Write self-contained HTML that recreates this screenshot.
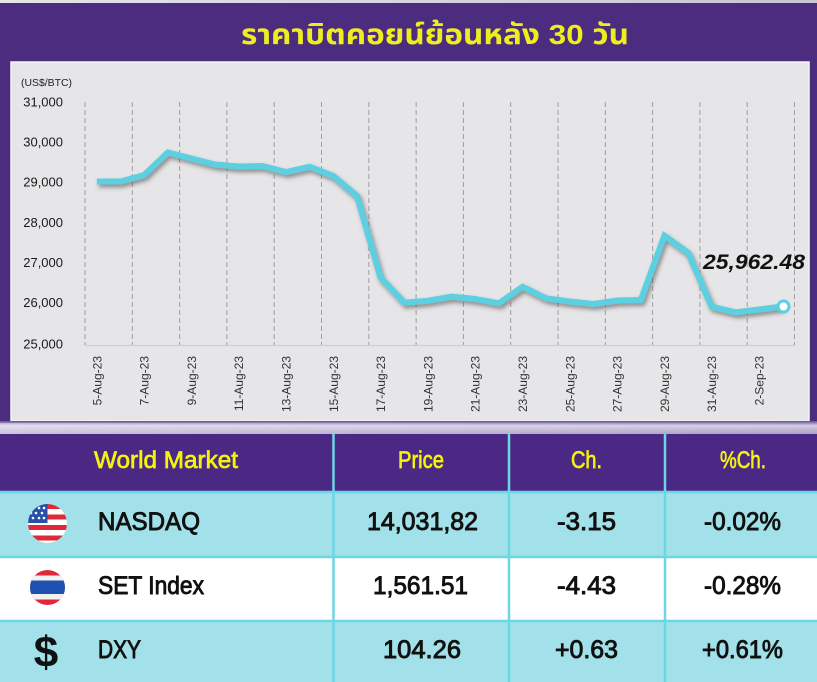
<!DOCTYPE html>
<html>
<head>
<meta charset="utf-8">
<style>
html,body{margin:0;padding:0;background:#4b2c7e;}
svg{display:block;}
</style>
</head>
<body>
<svg width="817" height="682" viewBox="0 0 817 682" xmlns="http://www.w3.org/2000/svg">
  <defs>
    <linearGradient id="topband" x1="0" y1="0" x2="1" y2="0">
      <stop offset="0" stop-color="#e4e4ea"/>
      <stop offset="1" stop-color="#c9c4d6"/>
    </linearGradient>
    <linearGradient id="midband" x1="0" y1="0" x2="0" y2="1">
      <stop offset="0" stop-color="#5f4f92"/>
      <stop offset="0.35" stop-color="#d4cfe2"/>
      <stop offset="1" stop-color="#ab9dc8"/>
    </linearGradient>
    <linearGradient id="midbandh" x1="0" y1="0" x2="1" y2="0">
      <stop offset="0" stop-color="#ffffff" stop-opacity="0.35"/>
      <stop offset="1" stop-color="#ffffff" stop-opacity="0"/>
    </linearGradient>
    <filter id="sh" x="-10%" y="-20%" width="120%" height="140%">
      <feDropShadow dx="2" dy="3" stdDeviation="2" flood-color="#444" flood-opacity="0.55"/>
    </filter>
    <clipPath id="usc"><circle cx="47.5" cy="523.5" r="19.5"/></clipPath>
    <clipPath id="thc"><circle cx="47.5" cy="587.5" r="17.5"/></clipPath>
  </defs>

  <!-- background -->
  <rect x="0" y="0" width="817" height="682" fill="#4b2c7e"/>
  <rect x="0" y="0" width="817" height="3" fill="url(#topband)"/>

  <!-- title -->
  <text x="435" y="44" text-anchor="middle" font-family="'Liberation Sans','Noto Sans Thai','Garuda','Loma','Tlwg Typo','Waree',sans-serif" font-size="28" font-weight="bold" fill="#eeee1e" textLength="388" lengthAdjust="spacingAndGlyphs">ราคาบิตคอยน์ย้อนหลัง 30 วัน</text>

  <!-- chart panel -->
  <rect x="11" y="62" width="798" height="359" fill="#e6e6e8" stroke="#f4f4f6" stroke-width="1.5"/>

  <text x="21" y="86" font-family="'Liberation Sans',sans-serif" font-size="10.5" fill="#222" textLength="51" lengthAdjust="spacingAndGlyphs">(US$/BTC)</text>

  <g font-family="'Liberation Sans',sans-serif" font-size="13" fill="#1a1a1a" text-anchor="end">
    <text x="63" y="106.5">31,000</text>
    <text x="63" y="146.5">30,000</text>
    <text x="63" y="186.5">29,000</text>
    <text x="63" y="227">28,000</text>
    <text x="63" y="267">27,000</text>
    <text x="63" y="307">26,000</text>
    <text x="63" y="348.5">25,000</text>
  </g>

  <!-- gridlines -->
  <g stroke="#a0a0a0" stroke-width="1" stroke-dasharray="5,3">
    <line x1="85" y1="102" x2="85" y2="345"/>
    <line x1="132.3" y1="102" x2="132.3" y2="345"/>
    <line x1="179.6" y1="102" x2="179.6" y2="345"/>
    <line x1="226.9" y1="102" x2="226.9" y2="345"/>
    <line x1="274.2" y1="102" x2="274.2" y2="345"/>
    <line x1="321.5" y1="102" x2="321.5" y2="345"/>
    <line x1="368.8" y1="102" x2="368.8" y2="345"/>
    <line x1="416.1" y1="102" x2="416.1" y2="345"/>
    <line x1="463.4" y1="102" x2="463.4" y2="345"/>
    <line x1="510.7" y1="102" x2="510.7" y2="345"/>
    <line x1="558" y1="102" x2="558" y2="345"/>
    <line x1="605.3" y1="102" x2="605.3" y2="345"/>
    <line x1="652.6" y1="102" x2="652.6" y2="345"/>
    <line x1="699.9" y1="102" x2="699.9" y2="345"/>
    <line x1="747.2" y1="102" x2="747.2" y2="345"/>
    <line x1="794.5" y1="102" x2="794.5" y2="345"/>
  </g>
  <line x1="85" y1="345.5" x2="795" y2="345.5" stroke="#cfcfcf" stroke-width="1.2"/>

  <!-- x labels -->
  <g font-family="'Liberation Sans',sans-serif" font-size="12" fill="#333" text-anchor="end">
    <text transform="translate(101.3,356) rotate(-90)">5-Aug-23</text>
    <text transform="translate(148.6,356) rotate(-90)">7-Aug-23</text>
    <text transform="translate(195.9,356) rotate(-90)">9-Aug-23</text>
    <text transform="translate(243.2,356) rotate(-90)">11-Aug-23</text>
    <text transform="translate(290.5,356) rotate(-90)">13-Aug-23</text>
    <text transform="translate(337.8,356) rotate(-90)">15-Aug-23</text>
    <text transform="translate(385.1,356) rotate(-90)">17-Aug-23</text>
    <text transform="translate(432.4,356) rotate(-90)">19-Aug-23</text>
    <text transform="translate(479.7,356) rotate(-90)">21-Aug-23</text>
    <text transform="translate(527,356) rotate(-90)">23-Aug-23</text>
    <text transform="translate(574.3,356) rotate(-90)">25-Aug-23</text>
    <text transform="translate(621.6,356) rotate(-90)">27-Aug-23</text>
    <text transform="translate(668.9,356) rotate(-90)">29-Aug-23</text>
    <text transform="translate(716.2,356) rotate(-90)">31-Aug-23</text>
    <text transform="translate(763.5,356) rotate(-90)">2-Sep-23</text>
  </g>

  <!-- series -->
  <polyline filter="url(#sh)" fill="none" stroke="#5ccfe0" stroke-width="6" stroke-linejoin="miter" stroke-linecap="butt"
    points="96.8,181.5 120.5,181.5 144.1,175 167.8,152.5 191.4,158.5 215.1,164.5 238.7,166.5 262.4,166 286,172 309.7,166.7 333.3,176 357,196 380.6,277.7 404.3,302.7 427.9,300.7 451.6,296.7 475.2,299 498.9,303.3 522.5,286.7 546.2,298.3 569.8,301.5 593.5,304 617.1,300.5 640.8,300 664.4,235.7 688.1,252.7 711.7,306.7 735.4,312.3 759,309.5 782.7,306.5"/>
  <circle cx="783.5" cy="306.5" r="5.5" fill="#ffffff" stroke="#5ccfe0" stroke-width="3"/>

  <text x="703" y="269" font-family="'Liberation Sans',sans-serif" font-size="21" font-weight="bold" font-style="italic" fill="#111" textLength="102" lengthAdjust="spacingAndGlyphs">25,962.48</text>

  <!-- band between chart and table -->
  <rect x="0" y="421" width="817" height="13" fill="url(#midband)"/>
  <rect x="0" y="423" width="817" height="11" fill="url(#midbandh)"/>

  <!-- table -->
  <rect x="0" y="434" width="817" height="58" fill="#4b2883"/>
  <rect x="0" y="492" width="817" height="65" fill="#a2e1e9"/>
  <rect x="0" y="557" width="817" height="64" fill="#ffffff"/>
  <rect x="0" y="621" width="817" height="61" fill="#a2e1e9"/>

  <g stroke="#6dd6e5" stroke-width="2.5">
    <line x1="0" y1="492" x2="817" y2="492"/>
    <line x1="0" y1="557" x2="817" y2="557"/>
    <line x1="0" y1="621" x2="817" y2="621"/>
    <line x1="333.5" y1="434" x2="333.5" y2="682"/>
    <line x1="509" y1="434" x2="509" y2="682"/>
    <line x1="665" y1="434" x2="665" y2="682"/>
  </g>

  <!-- header text -->
  <g font-family="'Liberation Sans',sans-serif" font-size="24" fill="#f3f30c" stroke="#f3f30c" stroke-width="0.7">
    <text x="94" y="468" textLength="144" lengthAdjust="spacingAndGlyphs">World Market</text>
    <text x="398" y="468" textLength="46" lengthAdjust="spacingAndGlyphs">Price</text>
    <text x="571" y="468" textLength="31" lengthAdjust="spacingAndGlyphs">Ch.</text>
    <text x="720" y="468" textLength="46" lengthAdjust="spacingAndGlyphs">%Ch.</text>
  </g>

  <!-- rows text -->
  <g font-family="'Liberation Sans',sans-serif" font-size="25" fill="#111" stroke="#111" stroke-width="0.9">
    <text x="98" y="530" textLength="102" lengthAdjust="spacingAndGlyphs">NASDAQ</text>
    <text x="367" y="530" textLength="111" lengthAdjust="spacingAndGlyphs">14,031,82</text>
    <text x="557" y="530" textLength="59" lengthAdjust="spacingAndGlyphs">-3.15</text>
    <text x="704" y="530" textLength="77" lengthAdjust="spacingAndGlyphs">-0.02%</text>

    <text x="98" y="594" textLength="106" lengthAdjust="spacingAndGlyphs">SET Index</text>
    <text x="373" y="594" textLength="95" lengthAdjust="spacingAndGlyphs">1,561.51</text>
    <text x="557" y="594" textLength="59" lengthAdjust="spacingAndGlyphs">-4.43</text>
    <text x="704" y="594" textLength="77" lengthAdjust="spacingAndGlyphs">-0.28%</text>

    <text x="98" y="658" textLength="43" lengthAdjust="spacingAndGlyphs">DXY</text>
    <text x="383" y="658" textLength="78" lengthAdjust="spacingAndGlyphs">104.26</text>
    <text x="555" y="658" textLength="63" lengthAdjust="spacingAndGlyphs">+0.63</text>
    <text x="702" y="658" textLength="81" lengthAdjust="spacingAndGlyphs">+0.61%</text>
  </g>

  <!-- US flag -->
  <g clip-path="url(#usc)">
    <rect x="27" y="503" width="42" height="42" fill="#ffffff"/>
    <rect x="27" y="504" width="42" height="5" fill="#e0283a"/>
    <rect x="27" y="514.5" width="42" height="5" fill="#e0283a"/>
    <rect x="27" y="525" width="42" height="5" fill="#e0283a"/>
    <rect x="27" y="535.5" width="42" height="5" fill="#e0283a"/>
    <rect x="27" y="503" width="20.5" height="20" fill="#2a4fa8"/>
    <g fill="#ffffff">
      <circle cx="33" cy="508" r="1.3"/><circle cx="39" cy="508" r="1.3"/><circle cx="44" cy="508" r="1.3"/>
      <circle cx="31" cy="513" r="1.3"/><circle cx="36" cy="513" r="1.3"/><circle cx="42" cy="513" r="1.3"/>
      <circle cx="33" cy="518" r="1.3"/><circle cx="39" cy="518" r="1.3"/><circle cx="44" cy="518" r="1.3"/>
    </g>
  </g>

  <!-- Thai flag -->
  <g clip-path="url(#thc)">
    <rect x="28" y="569" width="40" height="38" fill="#e0283a"/>
    <rect x="28" y="575.5" width="40" height="24" fill="#f2f2f2"/>
    <rect x="28" y="580.5" width="40" height="13.5" fill="#1f52b0"/>
  </g>

  <!-- dollar -->
  <text x="46" y="667" text-anchor="middle" font-family="'Liberation Sans',sans-serif" font-size="44" font-weight="bold" fill="#111">$</text>
</svg>
</body>
</html>
